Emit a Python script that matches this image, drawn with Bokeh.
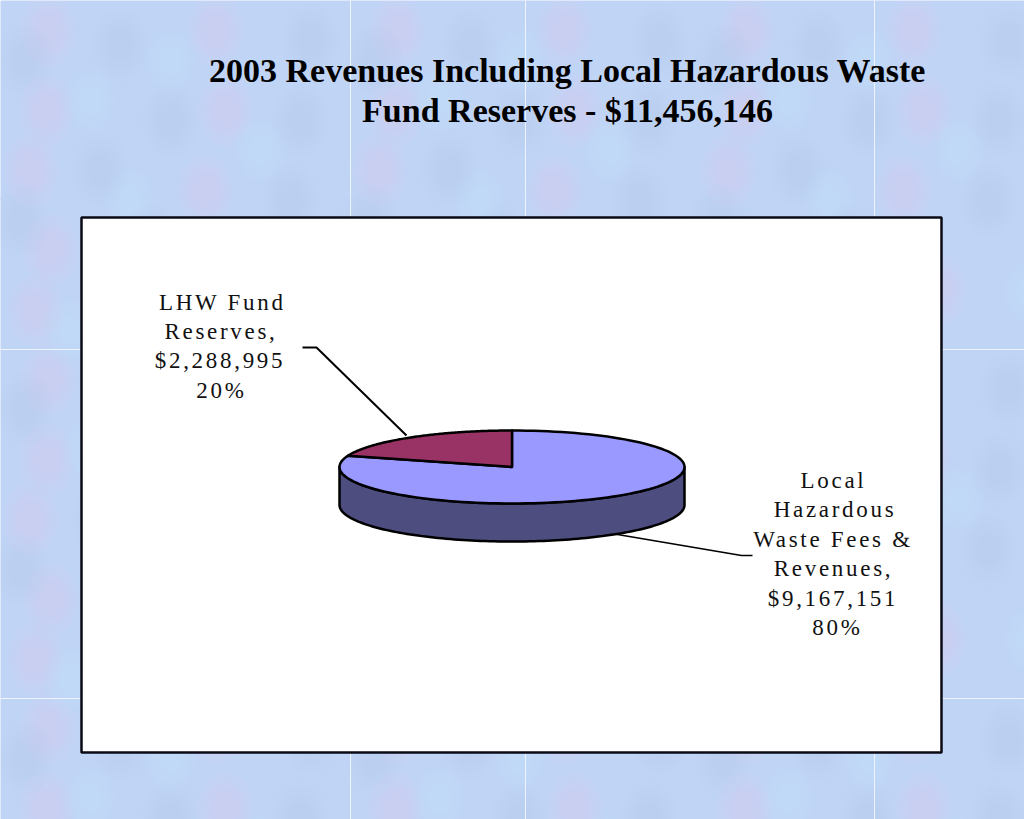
import math
from bokeh.core.properties import value
from bokeh.embed import file_html
from bokeh.layouts import column
from bokeh.models import Range1d
from bokeh.plotting import figure
from bokeh.resources import INLINE

# ---- chart data ----
categories = ["Local Hazardous Waste Fees & Revenues", "LHW Fund Reserves"]
amounts = [9167151, 2288995]
title_lines = ["2003 Revenues Including Local Hazardous Waste", "Fund Reserves - $11,456,146"]
label_major = ["Local", "Hazardous", "Waste Fees &", "Revenues,", "$9,167,151", "80%"]
label_minor = ["LHW Fund", "Reserves,", "$2,288,995", "20%"]

# ---- page layout, in window pixels ----
W, H, SPLIT = 1024, 819, 200
SERIF = "Liberation Serif"
TRACK = 2.7  # letter spacing of the data labels, px

# ---- hand-read backdrop tile ----
TILE = 349
pink = [(48, 30), (46, 110), (30, 170), (50, 250), (35, 310), (215, 30), (225, 110), (205, 190), (240, 290), (130, 300)]
blue = [(25, 60), (120, 45), (300, 120), (100, 170), (150, 240), (310, 40), (290, 200), (20, 220), (170, 120)]
aqua = [(90, 100), (170, 60), (130, 200), (260, 150), (330, 290), (70, 330), (190, 320)]


def panel(y0, y1):
    f = figure(width=W, height=y1 - y0, output_backend="svg", toolbar_location=None,
               x_range=Range1d(0, W), y_range=Range1d(y1, y0),
               min_border=0, outline_line_color=None, background_fill_color="#c0d4f6",
               border_fill_color="#c0d4f6")
    f.axis.visible = False
    f.grid.visible = False
    for group, colour in ((pink, "#e2c4ec"), (blue, "#adc6f1"), (aqua, "#c6ecfb")):
        xs, ys = [], []
        for i in range(3):
            for j in range(3):
                for tx, ty in group:
                    xs.append(tx + i * TILE)
                    ys.append(ty + j * TILE)
        for r in (28, 24, 20, 16, 12):
            f.ellipse(xs, ys, width=r * 2, height=r * 2.6, fill_color=colour, fill_alpha=0.05, line_color=None)
    # white tile seams
    f.segment([350, 525, 874], [y0] * 3, [350, 525, 874], [y1] * 3, line_color="#eef4ff", line_width=1)
    f.segment([0, 0], [349, 698], [W, W], [349, 698], line_color="#eef4ff", line_width=1)
    return f


top = panel(0, SPLIT)
p = panel(SPLIT - 2, H)
p.margin = (-2, 0, 0, 0)
p.styles = {"letter-spacing": f"{TRACK}px"}

# ---- chart panel ----
p.quad(left=[81], right=[941], top=[217], bottom=[752], fill_color="#ffffff",
       line_color="#0a0a14", line_width=2.5)

# ---- 3-D pie, angles from the values ----
CX, CY, A, B, DEPTH = 511.5, 466.5, 172.5, 36.5, 38
total = sum(amounts)
minor_sweep = 2 * math.pi * amounts[1] / total


def rim(theta):
    """theta is measured clockwise from 12 o'clock"""
    return CX + A * math.sin(theta), CY - B * math.cos(theta)


def arc(t0, t1, n=120):
    return [rim(t0 + (t1 - t0) * k / n) for k in range(n + 1)]


side = arc(math.pi / 2, 3 * math.pi / 2)
sx = [q[0] for q in side] + [q[0] for q in reversed(side)]
sy = [q[1] for q in side] + [q[1] + DEPTH for q in reversed(side)]
p.patch(sx, sy, fill_color="#4d4d80", line_color="#000000", line_width=2.5, line_join="round")

major = [(CX, CY)] + arc(0, 2 * math.pi - minor_sweep)
p.patch([q[0] for q in major], [q[1] for q in major], fill_color="#9999ff",
        line_color="#000000", line_width=2.5, line_join="round")
minor = [(CX, CY)] + arc(2 * math.pi - minor_sweep, 2 * math.pi)
p.patch([q[0] for q in minor], [q[1] for q in minor], fill_color="#993366",
        line_color="#000000", line_width=2.5, line_join="round")

# ---- leader lines ----
p.line([302, 316, 406], [347, 347, 435], line_color="#000000", line_width=2)
p.line([617, 741, 752], [534, 555, 555], line_color="#000000", line_width=1.7)


# ---- texts ----
def tracked_x(centre, lines):
    # Bokeh measures without the letter spacing, so the anchor is moved by half of it
    return [c - len(t) * TRACK / 2 for c, t in zip(centre, lines)]


top.text([567, 567], [70, 110], text=title_lines, text_font=value(SERIF), text_font_style="bold",
         text_font_size="34px", text_align="center", text_baseline="middle", text_color="#000000")
p.text(tracked_x([222, 220.5, 219.5, 221], label_minor), [301.5 + 29.4 * k for k in range(4)],
       text=label_minor, text_font=value(SERIF),
       text_font_size="23px", text_align="center", text_baseline="middle", text_color="#111111")
p.text(tracked_x([833, 834.5, 832.5, 833, 832.5, 837], label_major), [480 + 29.4 * k for k in range(6)],
       text=label_major, text_font=value(SERIF),
       text_font_size="23px", text_align="center", text_baseline="middle", text_color="#111111")

open("out.html", "w").write(file_html(column(top, p, spacing=0), INLINE))
